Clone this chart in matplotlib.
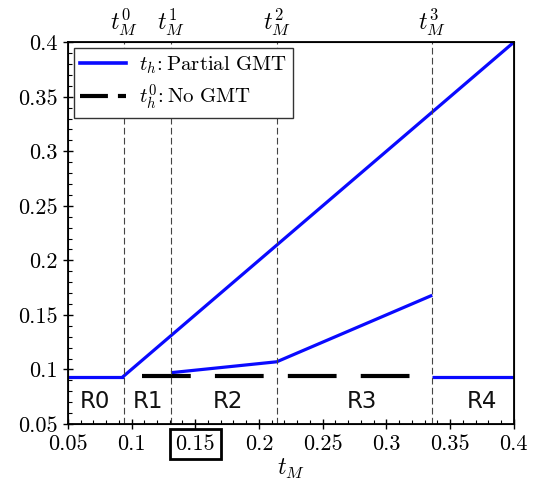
import matplotlib
matplotlib.use('Agg')
import matplotlib.pyplot as plt
from matplotlib.ticker import MultipleLocator
from matplotlib.lines import Line2D

plt.rcParams['font.family'] = 'serif'
plt.rcParams['font.serif'] = ['cmr10', 'DejaVu Serif']
plt.rcParams['mathtext.fontset'] = 'cm'
plt.rcParams['axes.unicode_minus'] = False

# region boundaries t_M^0 .. t_M^3
t_marks = [0.094, 0.131, 0.214, 0.336]
t_mark_labels = [r'$t_M^0$', r'$t_M^1$', r'$t_M^2$', r'$t_M^3$']

# partial GMT: flat part (R0), rising line t_h = t_M, lower branch, R4 flat
r0_x = [0.05, 0.094]
r0_y = [0.093, 0.093]
upper_x = [0.094, 0.4]
upper_y = [0.094, 0.4]
lower_x = [0.131, 0.214, 0.336]
lower_y = [0.097, 0.107, 0.168]
r4_x = [0.336, 0.4]
r4_y = [0.093, 0.093]

# no GMT
nogmt_x = [0.108, 0.32]
nogmt_y = [0.094, 0.094]

regions = ['R0', 'R1', 'R2', 'R3', 'R4']
region_x = [0.0715, 0.113, 0.176, 0.281, 0.375]
region_y = 0.071

xticks = [0.05, 0.1, 0.15, 0.2, 0.25, 0.3, 0.35, 0.4]
xtick_labels = ['0.05', '0.1', '0.15', '0.2', '0.25', '0.3', '0.35', '0.4']
yticks = [0.05, 0.1, 0.15, 0.2, 0.25, 0.3, 0.35, 0.4]
ytick_labels = ['0.05', '0.1', '0.15', '0.2', '0.25', '0.3', '0.35', '0.4']

fig = plt.figure(figsize=(5.38, 4.97), dpi=100)
ax = fig.add_axes([0.126, 0.147, 0.829, 0.768])

blue = '#0a0aff'
ax.plot(r0_x, r0_y, color=blue, lw=2.3, solid_capstyle='butt')
ax.plot(upper_x, upper_y, color=blue, lw=2.3)
ax.plot(lower_x, lower_y, color=blue, lw=2.3, solid_capstyle='butt')
ax.plot(r4_x, r4_y, color=blue, lw=2.3, solid_capstyle='butt')
ax.plot(nogmt_x, nogmt_y, color='black', lw=3, dashes=(11.7, 5.8))

for t in t_marks:
    ax.axvline(t, color='#444444', lw=0.8, dashes=(6, 3))

for name, rx in zip(regions, region_x):
    ax.text(rx, region_y, name, ha='center', va='center', fontsize=16.5,
            family='DejaVu Sans', color='#111111')

ax.set_xlim(0.05, 0.4)
ax.set_ylim(0.05, 0.4)
ax.set_xticks(xticks)
ax.set_xticklabels(xtick_labels)
ax.set_yticks(yticks)
ax.set_yticklabels(ytick_labels)
ax.xaxis.set_minor_locator(MultipleLocator(0.01))
ax.yaxis.set_minor_locator(MultipleLocator(0.01))
ax.tick_params(which='major', direction='inout', length=7, width=1, labelsize=16,
               top=False, right=False, pad=4)
ax.tick_params(which='minor', direction='in', length=3, width=0.8,
               top=False, right=False)
for sp in ax.spines.values():
    sp.set_linewidth(1.3)

# box around 0.15 tick label
for lab in ax.get_xticklabels():
    if lab.get_text() == '0.15':
        lab.set_bbox(dict(facecolor='none', edgecolor='black', lw=2, pad=4))

ax.set_xlabel(r'$t_M$', fontsize=17, labelpad=2)

top = ax.twiny()
top.set_xlim(ax.get_xlim())
top.set_xticks(t_marks)
top.set_xticklabels(t_mark_labels, fontsize=17)
top.tick_params(length=0, pad=3)

handles = [
    Line2D([], [], color=blue, lw=2.6),
    Line2D([], [], color='black', lw=3, dashes=(6.7, 2.4)),
]
labels = [r'$t_h\!:\mathrm{Partial\ GMT}$', r'$t_h^0\!:\mathrm{No\ GMT}$']
leg = ax.legend(handles, labels, loc='upper left', fontsize=15, frameon=True,
                fancybox=False, edgecolor='#333333', framealpha=1,
                handlelength=2.2, handletextpad=0.6,
                borderaxespad=0.3, borderpad=0.3, labelspacing=0.3)
leg.get_frame().set_linewidth(1.0)

plt.savefig('out.png', dpi=100)
plt.close()
